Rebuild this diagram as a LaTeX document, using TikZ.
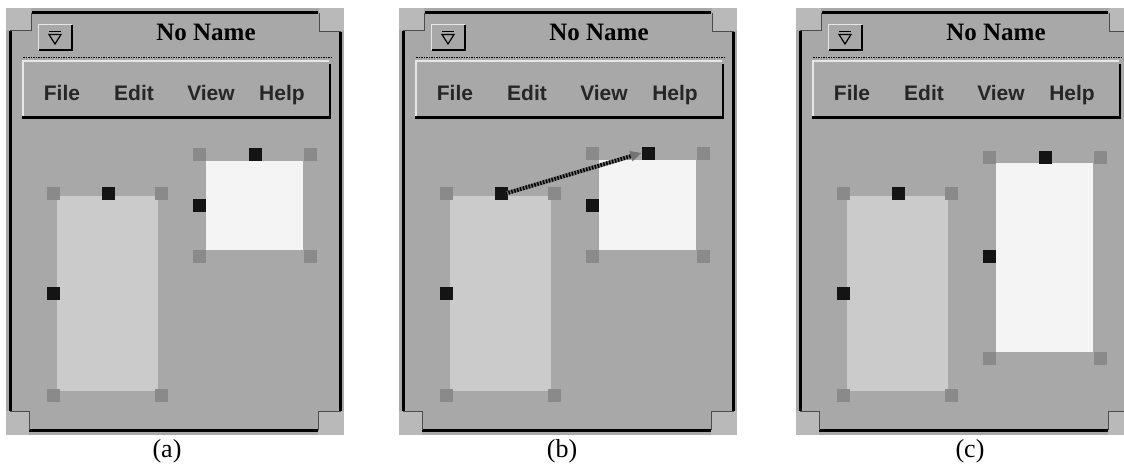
\documentclass[tikz,border=0pt]{standalone}
\usepackage{fontspec}
\setmainfont{Liberation Serif}
\newfontfamily\menufont{Liberation Sans}
\usetikzlibrary{arrows.meta}

\definecolor{winbg}{HTML}{A8A8A8}
\definecolor{cornerbg}{HTML}{B9B9B9}
\definecolor{boxlight}{HTML}{CBCBCB}
\definecolor{boxwhite}{HTML}{F4F4F4}
\definecolor{hgray}{HTML}{8A8A8A}
\definecolor{hblack}{HTML}{141414}
\definecolor{hilite}{HTML}{E6E6E6}

\tikzset{
  handle/.style={draw=none, minimum size=13pt, inner sep=0pt, outer sep=0pt},
  ghandle/.style={handle, fill=hgray},
  bhandle/.style={handle, fill=hblack},
  menuitem/.style={font=\menufont\bfseries\fontsize{21}{21}\selectfont, text=black!85, inner sep=0pt, anchor=base},
  titletext/.style={font=\bfseries\fontsize{25}{25}\selectfont, inner sep=0pt, anchor=base},
  caption/.style={font=\fontsize{26}{26}\selectfont, inner sep=0pt, anchor=base},
  frameline/.style={line width=3pt, black},
  notch/.style={line width=1pt, black!70},
  menubtn/.style={draw=none, fill=winbg, minimum width=33pt, minimum height=25pt, inner sep=0pt},
  linkline/.style={line width=4pt, black!55, -{Triangle[length=11pt, width=10pt]}, shorten <=-2pt},
  linkdash/.style={line width=4pt, black, dash pattern=on 1.5pt off 1.5pt, shorten >=11pt, shorten <=-2pt},
}

% Window frame, title bar and menu bar; #1 is the node-name prefix
\newcommand\windowframe[1]{%
  \fill[winbg] (6,8) rectangle (344,435);
  % resize corners
  \fill[cornerbg] (6,8) rectangle (31,30);
  \fill[cornerbg] (319,8) rectangle (344,31);
  \fill[cornerbg] (6,411) rectangle (29,435);
  \fill[cornerbg] (318,411) rectangle (344,435);
  % outer black edges
  \draw[frameline] (10.5,31) -- (10.5,411);
  \draw[frameline] (32,12.5) -- (318,12.5);
  \draw[frameline] (340.5,32) -- (340.5,411);
  \draw[frameline] (29,430.5) -- (318,430.5);
  \draw[notch] (10,30.5) -- (31.5,30.5) -- (31.5,13);
  \draw[notch] (319,13) -- (319,31.5) -- (341,31.5);
  \draw[notch] (10,411) -- (29.5,411) -- (29.5,430);
  \draw[notch] (318,430) -- (318,411) -- (341,411);
  % title bar
  \node[menubtn] (#1btn) at (55.5,37.5) {};
  \draw[line width=1pt, hilite] (#1btn.south west) -- (#1btn.north west) -- (#1btn.north east);
  \draw[line width=2pt, black] (#1btn.north east) -- (#1btn.south east) -- (#1btn.south west);
  \draw[line width=1.5pt, black] (49,31.5) -- (61,31.5);
  \draw[line width=1.2pt, black] (49,34.5) -- (61,34.5) -- (55,44) -- cycle;
  \node[titletext] (#1title) at (206,40) {No Name};
  % menu bar
  \draw[line width=1.5pt, black, dash pattern=on 1.5pt off 1pt] (23,57.5) -- (331,57.5);
  \draw[line width=1.5pt, hilite] (23,116) -- (23,61) -- (329,61);
  \draw[line width=2.5pt, black] (22,117.5) -- (331,117.5);
  \draw[line width=2pt, black] (330,64) -- (330,118);
  \node[menuitem] (#1file) at (62,100) {File};
  \node[menuitem] (#1edit) at (134,100) {Edit};
  \node[menuitem] (#1view) at (211,100) {View};
  \node[menuitem] (#1help) at (282,100) {Help};
}

% Tall rectangle with its selection handles
\newcommand\tallbox[1]{%
  \fill[boxlight] (57,196) rectangle (158,391);
  \node[ghandle] (#1Ltl) at (53,193) {};
  \node[bhandle] (#1Lt)  at (108,193) {};
  \node[ghandle] (#1Ltr) at (161,193) {};
  \node[bhandle] (#1Ll)  at (53,293) {};
  \node[ghandle] (#1Lbl) at (53,395) {};
  \node[ghandle] (#1Lbr) at (161,395) {};
}

\begin{document}
\begin{tikzpicture}[x=1pt, y=-1pt]
\useasboundingbox (0,0) rectangle (1124,466);
\clip (0,0) rectangle (1124,466);
\fill[white] (0,0) rectangle (1124,466);

% ---------- (a) ----------
\begin{scope}
  \windowframe{a}
  \tallbox{a}
  \fill[boxwhite] (206,161) rectangle (303,250);
  \node[ghandle] (aStl) at (199,154) {};
  \node[bhandle] (aSt)  at (255,154) {};
  \node[ghandle] (aStr) at (310,154) {};
  \node[bhandle] (aSl)  at (199,205) {};
  \node[ghandle] (aSbl) at (199,256) {};
  \node[ghandle] (aSbr) at (310,256) {};
\end{scope}
\node[caption] (capa) at (167,457) {(a)};

% ---------- (b) ----------
\begin{scope}[shift={(393,0)}]
  \windowframe{b}
  \tallbox{b}
  \fill[boxwhite] (206,160) rectangle (303,250);
  \node[ghandle] (bStl) at (199,153) {};
  \node[bhandle] (bSt)  at (255,153) {};
  \node[ghandle] (bStr) at (310,153) {};
  \node[bhandle] (bSl)  at (199,205) {};
  \node[ghandle] (bSbl) at (199,256) {};
  \node[ghandle] (bSbr) at (310,256) {};
  % link dragged from the tall box's top handle to the small box's top handle
  \draw[linkline] (bLt.east) -- (bSt.west);
  \draw[linkdash] (bLt.east) -- (bSt.west);
\end{scope}
\node[caption] (capb) at (562,457) {(b)};

% ---------- (c) ----------
\begin{scope}[shift={(790,0)}]
  \windowframe{c}
  \tallbox{c}
  \fill[boxwhite] (206,163) rectangle (303,352);
  \node[ghandle] (cStl) at (199,157) {};
  \node[bhandle] (cSt)  at (255,157) {};
  \node[ghandle] (cStr) at (310,157) {};
  \node[bhandle] (cSl)  at (199,256) {};
  \node[ghandle] (cSbl) at (199,358) {};
  \node[ghandle] (cSbr) at (310,358) {};
\end{scope}
\node[caption] (capc) at (970,457) {(c)};
\end{tikzpicture}
\end{document}
